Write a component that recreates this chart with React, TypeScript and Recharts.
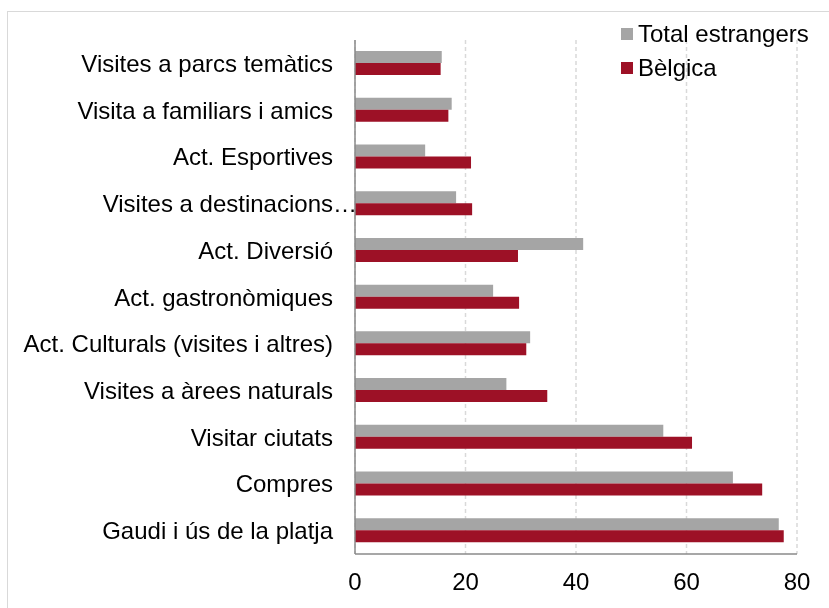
import { BarChart, Bar, XAxis, YAxis, CartesianGrid, Legend } from 'recharts'

const categories = [
  'Visites a parcs temàtics',
  'Visita a familiars i amics',
  'Act. Esportives',
  'Visites a destinacions…',
  'Act. Diversió',
  'Act. gastronòmiques',
  'Act. Culturals (visites i altres)',
  'Visites a àrees naturals',
  'Visitar ciutats',
  'Compres',
  'Gaudi i ús de la platja',
]

const totalEstrangers = [15.7, 17.5, 12.7, 18.3, 41.3, 25.0, 31.7, 27.4, 55.8, 68.4, 76.7]
const belgica = [15.5, 16.9, 21.0, 21.2, 29.5, 29.7, 31.0, 34.8, 61.0, 73.7, 77.6]

const seriesNames = ['Total estrangers', 'Bèlgica']
const xTicks = [0, 20, 40, 60, 80]

const GRAY = '#a5a5a5'
const RED = '#9d1126'
const FONT = '"Liberation Sans", Arial, sans-serif'

const data = categories.map((name, i) => ({
  name,
  total: totalEstrangers[i],
  belgica: belgica[i],
}))

function CategoryTick({ x, y, payload }: any) {
  const label = String(payload.value)
  // the truncated label spills its ellipsis towards the axis
  const shift = label.endsWith('…') ? 24 : 0
  return (
    <text x={x + shift} y={y} textAnchor="end" dominantBaseline="central" fill="#000" fontSize={24} fontFamily={FONT}>
      {label}
    </text>
  )
}

function LegendBox({ payload }: any) {
  const items = [...(payload || [])].sort(
    (a: any, b: any) => seriesNames.indexOf(a.value) - seriesNames.indexOf(b.value)
  )
  return (
    <div style={{ fontFamily: FONT, fontSize: 24, color: '#000' }}>
      {items.map((item: any) => (
        <div key={item.value} style={{ display: 'flex', alignItems: 'center', height: 34 }}>
          <span style={{ width: 12, height: 12, background: item.color, marginRight: 5, display: 'inline-block' }} />
          <span>{item.value}</span>
        </div>
      ))}
    </div>
  )
}

export default function App() {
  return (
    <div
      style={{
        position: 'fixed',
        left: 7,
        top: 11,
        width: 822,
        height: 597,
        boxSizing: 'border-box',
        borderTop: '1px solid #d9d9d9',
        borderLeft: '1px solid #d9d9d9',
      }}
    >
      <div style={{ position: 'absolute', left: -8, top: -12 }}>
        <BarChart
          width={829}
          height={608}
          data={data}
          layout="vertical"
          margin={{ top: 40, right: 32, bottom: 24, left: 0 }}
          barSize={12}
          barGap={0}
        >
          <CartesianGrid horizontal={false} stroke="#d9d9d9" strokeWidth={1.5} strokeDasharray="4 3" />
          <XAxis
            type="number"
            domain={[0, 80]}
            ticks={xTicks}
            height={30}
            axisLine={{ stroke: '#8a8a8a', strokeWidth: 1.5 }}
            tickLine={false}
            tickMargin={13}
            tick={{ fill: '#000', fontSize: 24, fontFamily: FONT }}
          />
          <YAxis
            type="category"
            dataKey="name"
            width={355}
            interval={0}
            axisLine={{ stroke: '#8a8a8a', strokeWidth: 1.5 }}
            tickLine={false}
            tickMargin={16}
            tick={<CategoryTick />}
          />
          <Legend
            layout="horizontal"
            verticalAlign="middle"
            align="center"
            content={<LegendBox />}
            wrapperStyle={{ left: 621, top: 17, width: 'auto' }}
          />
          <Bar dataKey="total" name={seriesNames[0]} fill={GRAY} isAnimationActive={false} />
          <Bar dataKey="belgica" name={seriesNames[1]} fill={RED} isAnimationActive={false} />
        </BarChart>
      </div>
    </div>
  )
}
